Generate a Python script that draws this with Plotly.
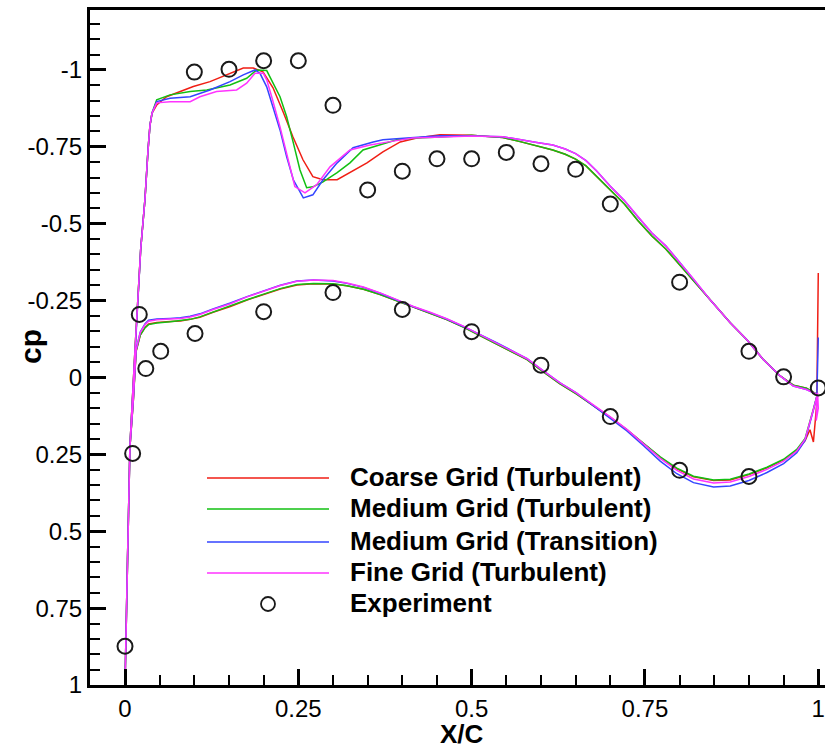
import plotly.graph_objects as go

# ---------------- data ----------------
# Leading-edge part of the suction side (shared by all runs), LE -> aft
LE_X = [0.0, 0.0036, 0.0072, 0.0144, 0.0227, 0.0288, 0.0332, 0.036, 0.039]
LE_CP = [1.0, 0.59, 0.22, -0.09, -0.42, -0.58, -0.74, -0.82, -0.86]

# Suction side, shock region (per run)
MID_X_COARSE = [0.0457, 0.06, 0.079, 0.0985, 0.1226, 0.1467, 0.1706, 0.185, 0.199, 0.2135, 0.228,
                0.2423, 0.2567, 0.271, 0.2856, 0.306, 0.3245, 0.349, 0.372, 0.397, 0.421, 0.4544]
MID_CP_COARSE = [-0.886, -0.913, -0.93, -0.946, -0.962, -0.984, -1.006, -1.006, -0.994, -0.942, -0.864,
                 -0.782, -0.708, -0.653, -0.643, -0.643, -0.666, -0.698, -0.734, -0.766, -0.779, -0.789]

MID_X_MEDIUM = [0.0457, 0.065, 0.094, 0.118, 0.1515, 0.1755, 0.19, 0.2044, 0.2135, 0.2236, 0.2332,
                0.2428, 0.2524, 0.262, 0.271, 0.2856, 0.306, 0.3245, 0.3433, 0.378, 0.392, 0.421, 0.4544]
MID_CP_MEDIUM = [-0.903, -0.919, -0.93, -0.935, -0.951, -0.973, -1.0, -0.998, -0.958, -0.913, -0.848,
                 -0.763, -0.675, -0.617, -0.62, -0.636, -0.666, -0.698, -0.74, -0.763, -0.773, -0.779, -0.782]

MID_X_TRANS = [0.0457, 0.065, 0.094, 0.1226, 0.1515, 0.1706, 0.1875, 0.1947, 0.2044, 0.2135, 0.2236,
               0.2332, 0.2428, 0.2572, 0.271, 0.2856, 0.306, 0.329, 0.358, 0.372, 0.4067, 0.4544]
MID_CP_TRANS = [-0.897, -0.908, -0.913, -0.935, -0.962, -0.984, -1.0, -0.989, -0.945, -0.881, -0.805,
                -0.718, -0.643, -0.584, -0.594, -0.643, -0.698, -0.747, -0.766, -0.773, -0.779, -0.786]

MID_X_FINE = [0.0457, 0.065, 0.094, 0.108, 0.132, 0.161, 0.1755, 0.1875, 0.1995, 0.2044, 0.2116,
              0.2236, 0.2332, 0.245, 0.2596, 0.2765, 0.2957, 0.3245, 0.3534, 0.3822, 0.4154, 0.4544]
MID_CP_FINE = [-0.893, -0.897, -0.897, -0.913, -0.93, -0.935, -0.957, -0.989, -0.989, -0.968, -0.913,
               -0.815, -0.728, -0.621, -0.6, -0.627, -0.685, -0.74, -0.756, -0.767, -0.779, -0.782]

# Suction side, aft part
AFT_X = [0.50, 0.545, 0.57, 0.594, 0.617, 0.635, 0.65, 0.665, 0.68, 0.70, 0.72, 0.74, 0.76,
         0.78, 0.80, 0.82, 0.845, 0.873, 0.897, 0.92, 0.945, 0.964, 0.983, 0.998]
AFT_CP_TURB = [-0.788, -0.78, -0.767, -0.754, -0.74, -0.726, -0.71, -0.688, -0.656, -0.61, -0.565, -0.51,
               -0.46, -0.418, -0.365, -0.315, -0.25, -0.178, -0.123, -0.06, -0.005, 0.025, 0.035, 0.055]
AFT_CP_TRANS = [-0.785, -0.783, -0.773, -0.764, -0.756, -0.743, -0.728, -0.705, -0.672, -0.622, -0.576,
                -0.522, -0.47, -0.428, -0.375, -0.32, -0.25, -0.178, -0.123, -0.06, -0.005, 0.028, 0.039, 0.055]

# Pressure side, LE -> TE
LOWER_X = [0.0, 0.004, 0.007, 0.012, 0.016, 0.022, 0.029, 0.034, 0.046, 0.065, 0.08, 0.094, 0.108, 0.127,
           0.152, 0.176, 0.2, 0.224, 0.248, 0.272, 0.30, 0.32, 0.344, 0.368, 0.392, 0.416, 0.44, 0.464,
           0.488, 0.512, 0.536, 0.56, 0.58, 0.60, 0.627, 0.651, 0.675, 0.70, 0.724, 0.748, 0.772, 0.796,
           0.82, 0.849, 0.873, 0.90, 0.926, 0.95, 0.969, 0.981, 0.988, 0.993, 0.998]
LOWER_CP_COARSE = [1.0, 0.59, 0.23, 0.075, -0.085, -0.138, -0.163, -0.174, -0.179, -0.182, -0.184, -0.189,
                   -0.196, -0.212, -0.231, -0.252, -0.27, -0.288, -0.301, -0.305, -0.304, -0.298, -0.287,
                   -0.27, -0.249, -0.228, -0.209, -0.188, -0.164, -0.137, -0.11, -0.082, -0.058, -0.024,
                   0.02, 0.053, 0.09, 0.13, 0.17, 0.214, 0.26, 0.297, 0.323, 0.335, 0.333, 0.316, 0.294,
                   0.268, 0.238, 0.205, 0.17, 0.21, 0.08]
LOWER_CP_MEDIUM = [1.0, 0.59, 0.23, 0.075, -0.085, -0.138, -0.162, -0.172, -0.177, -0.181, -0.184, -0.189,
                   -0.197, -0.213, -0.232, -0.253, -0.271, -0.289, -0.302, -0.306, -0.305, -0.298, -0.287,
                   -0.27, -0.249, -0.228, -0.209, -0.188, -0.164, -0.137, -0.11, -0.082, -0.058, -0.024,
                   0.02, 0.053, 0.09, 0.13, 0.17, 0.213, 0.258, 0.295, 0.321, 0.333, 0.331, 0.314, 0.292,
                   0.266, 0.234, 0.198, 0.146, 0.102, 0.06]
LOWER_CP_TRANS = [1.0, 0.59, 0.23, 0.07, -0.09, -0.148, -0.175, -0.186, -0.19, -0.192, -0.194, -0.199,
                  -0.207, -0.223, -0.242, -0.263, -0.281, -0.3, -0.314, -0.317, -0.314, -0.306, -0.293,
                  -0.274, -0.252, -0.23, -0.211, -0.19, -0.166, -0.14, -0.113, -0.085, -0.061, -0.027,
                  0.017, 0.05, 0.09, 0.131, 0.174, 0.222, 0.272, 0.313, 0.342, 0.356, 0.353, 0.335, 0.309,
                  0.28, 0.245, 0.205, 0.15, 0.106, 0.061]
LOWER_CP_FINE = [1.0, 0.59, 0.23, 0.07, -0.09, -0.146, -0.172, -0.183, -0.188, -0.19, -0.192, -0.197,
                 -0.205, -0.221, -0.24, -0.262, -0.28, -0.299, -0.313, -0.317, -0.315, -0.307, -0.294,
                 -0.275, -0.253, -0.231, -0.212, -0.191, -0.167, -0.14, -0.113, -0.085, -0.061, -0.027,
                 0.017, 0.05, 0.088, 0.128, 0.169, 0.215, 0.263, 0.302, 0.33, 0.343, 0.34, 0.322, 0.299,
                 0.272, 0.239, 0.201, 0.147, 0.104, 0.061]

# Trailing-edge spikes
TE_X_COARSE = [1.0]
TE_CP_COARSE = [-0.34]
TE_X_TRANS = [1.0]
TE_CP_TRANS = [-0.13]
TE_X_FINE_END = [0.997, 1.0, 0.999]
TE_CP_FINE_END = [0.14, 0.1, 0.05]

# Experiment
EXP_X = [0.0, 0.011, 0.0206, 0.030, 0.0515, 0.101, 0.20, 0.30, 0.40, 0.50, 0.60, 0.70, 0.80, 0.90,
         1.0, 0.95, 0.90, 0.80, 0.70, 0.65, 0.60, 0.55, 0.50, 0.45, 0.40, 0.35, 0.30, 0.25, 0.20, 0.15, 0.10]
EXP_CP = [0.874, 0.247, -0.205, -0.029, -0.085, -0.143, -0.214, -0.276, -0.221, -0.149, -0.04, 0.127,
          0.302, 0.322, 0.034, -0.002, -0.085, -0.31, -0.564, -0.677, -0.695, -0.732, -0.711, -0.711,
          -0.671, -0.61, -0.885, -1.03, -1.03, -1.002, -0.993]

NAMES = ["Coarse Grid (Turbulent)", "Medium Grid (Turbulent)", "Medium Grid (Transition)",
         "Fine Grid (Turbulent)"]
COLORS = ["#f01e14", "#12c012", "#3345ff", "#ff33ff"]

X_TICKS = [0, 0.25, 0.5, 0.75, 1]
X_TICKTEXT = ["0", "0.25", "0.5", "0.75", "1"]
Y_TICKS = [-1, -0.75, -0.5, -0.25, 0, 0.25, 0.5, 0.75, 1]
Y_TICKTEXT = ["-1", "-0.75", "-0.5", "-0.25", "0", "0.25", "0.5", "0.75", "1"]


def loop(mid_x, mid_cp, aft_cp, low_cp, te_x=(), te_cp=(), end_x=(), end_cp=()):
    ux = LE_X + mid_x + AFT_X
    uc = LE_CP + mid_cp + aft_cp
    xs = list(te_x) + ux[::-1] + LOWER_X + list(end_x)
    cs = list(te_cp) + uc[::-1] + low_cp + list(end_cp)
    return xs, cs


series = [
    loop(MID_X_COARSE, MID_CP_COARSE, AFT_CP_TURB, LOWER_CP_COARSE, TE_X_COARSE, TE_CP_COARSE),
    loop(MID_X_MEDIUM, MID_CP_MEDIUM, AFT_CP_TURB, LOWER_CP_MEDIUM),
    loop(MID_X_TRANS, MID_CP_TRANS, AFT_CP_TRANS, LOWER_CP_TRANS, TE_X_TRANS, TE_CP_TRANS),
    loop(MID_X_FINE, MID_CP_FINE, AFT_CP_TRANS, LOWER_CP_FINE, end_x=TE_X_FINE_END, end_cp=TE_CP_FINE_END),
]

fig = go.Figure()
for (xs, cs), name, col in zip(series, NAMES, COLORS):
    fig.add_trace(go.Scatter(x=xs, y=cs, mode="lines", name=name,
                             line=dict(color=col, width=1.5), showlegend=False))
fig.add_trace(go.Scatter(x=EXP_X, y=EXP_CP, mode="markers", name="Experiment", showlegend=False,
                         marker=dict(symbol="circle-open", size=15, color="#1a1a1a",
                                     line=dict(width=2, color="#1a1a1a"))))

# ---------------- layout ----------------
W, H = 825, 749
L, R, T, B = 90, 0, 10, 64
PW, PH = W - L - R, H - T - B


def px(xp):
    return (xp - L) / PW


def py(yp):
    return (H - B - yp) / PH


FONT = "Liberation Sans, Arial, sans-serif"
axis_common = dict(showgrid=False, zeroline=False, showline=True, linecolor="black", linewidth=3,
                   ticks="inside", ticklen=16, tickwidth=3, tickcolor="black",
                   tickfont=dict(family=FONT, size=24, color="black"),
                   minor=dict(ticks="inside", ticklen=10, tickwidth=1.5, tickcolor="black", dtick=0.05))

fig.update_xaxes(range=[-0.0505, 1.0097], tickmode="array", tickvals=X_TICKS, ticktext=X_TICKTEXT,
                 mirror=True, ticklabelstandoff=0, **axis_common)
fig.update_yaxes(range=[1.0, -1.195], tickmode="array", tickvals=Y_TICKS, ticktext=Y_TICKTEXT,
                 mirror=False, ticklabelstandoff=0, **axis_common)

shapes = []
annotations = []
leg_rows = [478, 509, 542, 573]
for yv, col in zip(leg_rows, COLORS):
    shapes.append(dict(type="line", xref="paper", yref="paper", x0=px(207), x1=px(329),
                       y0=py(yv), y1=py(yv), line=dict(color=col, width=1.5)))
shapes.append(dict(type="circle", xref="paper", yref="paper", x0=px(261), x1=px(275),
                   y0=py(611), y1=py(597), line=dict(color="#1a1a1a", width=1.8)))
text_rows = [477, 508, 541, 572, 603]
for yv, name in zip(text_rows, NAMES + ["Experiment"]):
    annotations.append(dict(xref="paper", yref="paper", x=px(348), y=py(yv), xanchor="left",
                            yanchor="middle", text=name, showarrow=False,
                            font=dict(family=FONT, size=26, color="black", weight="bold")))
annotations.append(dict(xref="paper", yref="paper", x=px(462), y=py(734), xanchor="center",
                        yanchor="middle", text="X/C", showarrow=False, borderpad=0,
                        font=dict(family=FONT, size=26, color="black", weight="bold")))
annotations.append(dict(xref="paper", yref="paper", x=px(30), y=py(347), xanchor="center",
                        yanchor="middle", text="cp", showarrow=False, textangle=-90,
                        font=dict(family=FONT, size=30, color="black", weight="bold")))

fig.update_layout(width=W, height=H, margin=dict(l=L, r=R, t=T, b=B, autoexpand=False),
                  plot_bgcolor="white", paper_bgcolor="white",
                  shapes=shapes, annotations=annotations, showlegend=False)

fig.write_html("out.html", config={"displayModeBar": False},
               post_script="document.body.style.margin='0';")
